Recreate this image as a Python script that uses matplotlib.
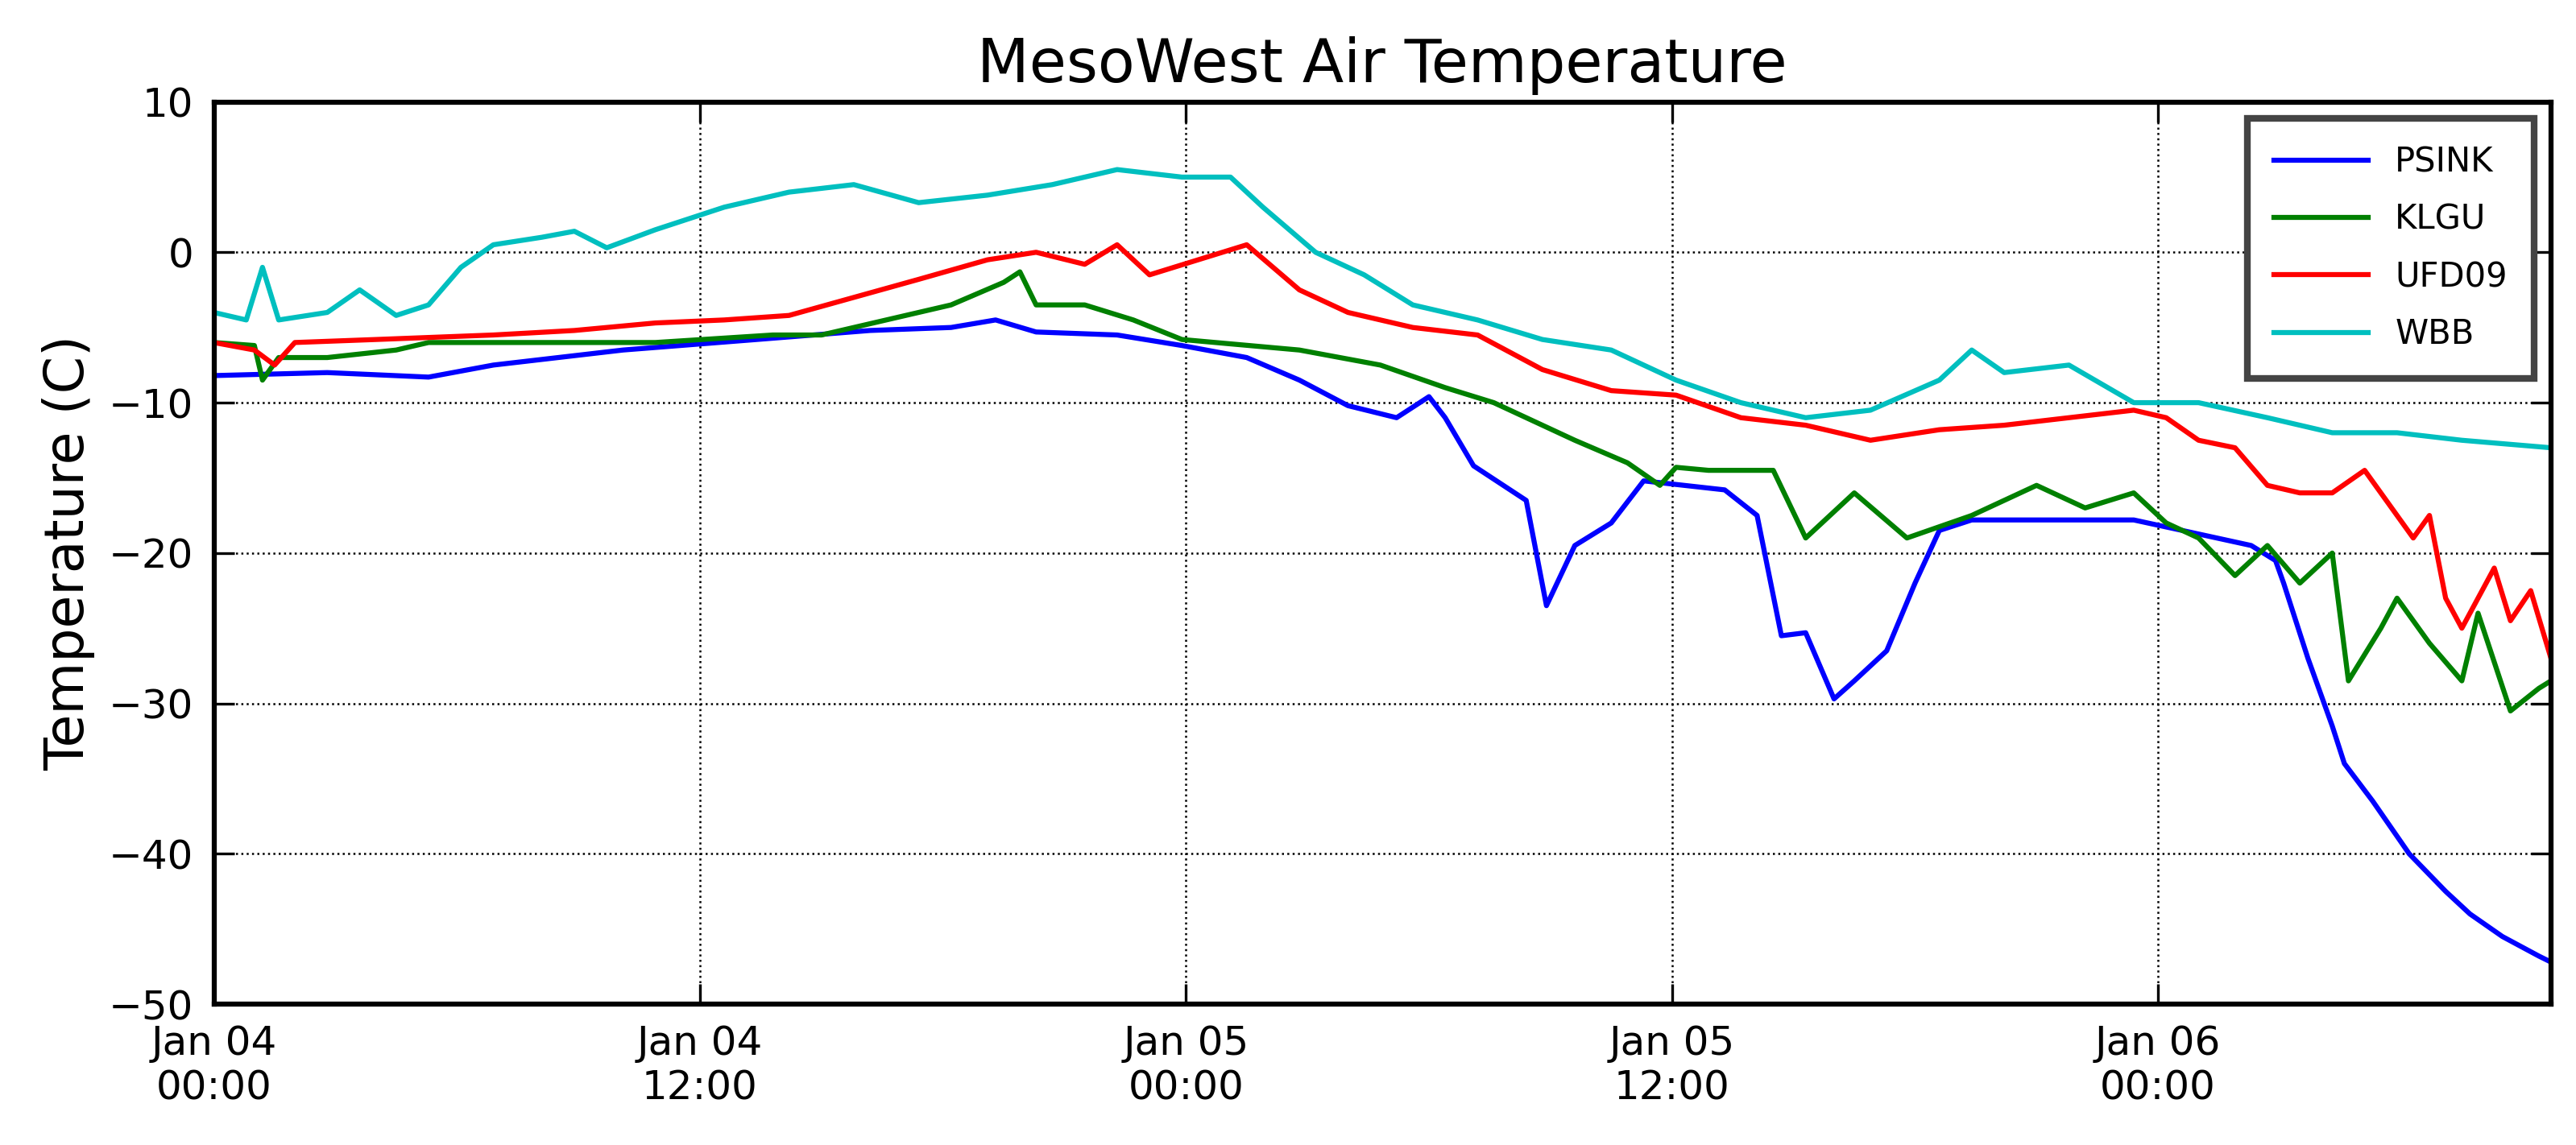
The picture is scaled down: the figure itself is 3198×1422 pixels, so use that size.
import matplotlib.pyplot as plt

# hours since Jan 04 00:00, temperature in C
psink_t = [0, 2.8, 5.3, 6.9, 10.1, 13.4, 16.2, 18.2, 19.3, 20.3, 22.3, 23.9, 25.5, 26.8, 28, 29.2,
           30, 30.4, 31.1, 32.4, 32.9, 33.6, 34.5, 35.3, 37.3, 38.1, 38.7, 39.3, 40, 40.5, 41.3,
           42, 42.6, 43.4, 47.4, 48.6, 50.3, 50.9, 51.1, 51.7, 52.3, 52.6, 53.3, 54.2, 55.1,
           55.7, 56.5, 57.4, 57.7]
psink_v = [-8.2, -8.0, -8.3, -7.5, -6.5, -5.8, -5.2, -5.0, -4.5, -5.3, -5.5, -6.2, -7.0, -8.5, -10.2, -11.0,
           -9.6, -11.0, -14.2, -16.5, -23.5, -19.5, -18.0, -15.2, -15.8, -17.5, -25.5, -25.3, -29.7, -28.5, -26.5,
           -22.0, -18.5, -17.8, -17.8, -18.5, -19.5, -20.5, -22.0, -27.0, -31.5, -34.0, -36.5, -40.0, -42.5,
           -44.0, -45.5, -46.8, -47.2]

klgu_t = [0, 1.0, 1.2, 1.6, 2.8, 4.5, 5.3, 10.9, 13.8, 15, 16.6, 18.2, 19.5, 19.9, 20.3, 21.5, 22.7,
          23.9, 26.8, 28.8, 30.4, 31.6, 33.6, 34.9, 35.7, 36.1, 36.9, 38.5, 39.3, 40.5, 41.8, 43.4,
          45, 46.2, 47.4, 48.2, 49, 49.9, 50.7, 51.5, 52.3, 52.7, 53.5, 53.9, 54.7, 55.5, 55.9,
          56.7, 57.4, 57.7]
klgu_v = [-6.0, -6.2, -8.5, -7.0, -7.0, -6.5, -6.0, -6.0, -5.5, -5.5, -4.5, -3.5, -2.0, -1.3, -3.5, -3.5, -4.5,
          -5.8, -6.5, -7.5, -9.0, -10.0, -12.5, -14.0, -15.5, -14.3, -14.5, -14.5, -19.0, -16.0, -19.0, -17.5,
          -15.5, -17.0, -16.0, -18.0, -19.0, -21.5, -19.5, -22.0, -20.0, -28.5, -25.0, -23.0, -26.0, -28.5, -24.0,
          -30.5, -29.0, -28.5]

ufd09_t = [0, 1.0, 1.5, 2.0, 4.0, 6.9, 8.9, 10.9, 12.6, 14.2, 15.8, 17.4, 19.1, 20.3, 21.5, 22.3, 23.1,
           24.3, 25.5, 26.8, 28, 29.6, 31.2, 32.8, 34.5, 36.1, 37.7, 39.3, 40.9, 42.6, 44.2, 45.8,
           47.4, 48.2, 49, 49.9, 50.7, 51.5, 52.3, 53.1, 53.9, 54.3, 54.7, 55.1, 55.5, 55.9, 56.3,
           56.7, 57.2, 57.7]
ufd09_v = [-6.0, -6.5, -7.5, -6.0, -5.8, -5.5, -5.2, -4.7, -4.5, -4.2, -3.0, -1.8, -0.5, 0.0, -0.8, 0.5, -1.5,
           -0.5, 0.5, -2.5, -4.0, -5.0, -5.5, -7.8, -9.2, -9.5, -11.0, -11.5, -12.5, -11.8, -11.5, -11.0,
           -10.5, -11.0, -12.5, -13.0, -15.5, -16.0, -16.0, -14.5, -17.5, -19.0, -17.5, -23.0, -25.0, -23.0, -21.0,
           -24.5, -22.5, -27.0]

wbb_t = [0, 0.8, 1.2, 1.6, 2.8, 3.6, 4.5, 5.3, 6.1, 6.9, 8.1, 8.9, 9.7, 10.9, 12.6, 14.2, 15.8,
         17.4, 19.1, 20.7, 22.3, 23.9, 25.1, 25.9, 27.2, 28.4, 29.6, 31.2, 32.8, 34.5, 36.1, 37.7,
         39.3, 40.9, 42.6, 43.4, 44.2, 45.8, 47.4, 49, 50.7, 52.3, 53.9, 55.5, 57.7]
wbb_v = [-4.0, -4.5, -1.0, -4.5, -4.0, -2.5, -4.2, -3.5, -1.0, 0.5, 1.0, 1.4, 0.3, 1.5, 3.0, 4.0, 4.5,
         3.3, 3.8, 4.5, 5.5, 5.0, 5.0, 3.0, 0.0, -1.5, -3.5, -4.5, -5.8, -6.5, -8.5, -10.0,
         -11.0, -10.5, -8.5, -6.5, -8.0, -7.5, -10.0, -10.0, -11.0, -12.0, -12.0, -12.5, -13.0]

tick_hours = [0, 12, 24, 36, 48]
tick_labels = ['Jan 04\n00:00', 'Jan 04\n12:00', 'Jan 05\n00:00', 'Jan 05\n12:00', 'Jan 06\n00:00']

fig = plt.figure(figsize=(10.663, 4.74), dpi=300)
ax = fig.add_axes([0.083, 0.123, 0.907, 0.788])

ax.plot(psink_t, psink_v, color='b', lw=1.5, label='PSINK')
ax.plot(klgu_t, klgu_v, color='g', lw=1.5, label='KLGU')
ax.plot(ufd09_t, ufd09_v, color='r', lw=1.5, label='UFD09')
ax.plot(wbb_t, wbb_v, color='c', lw=1.5, label='WBB')

ax.set_xlim(0, 57.7)
ax.set_ylim(-50, 10)
ax.set_xticks(tick_hours)
ax.set_xticklabels(tick_labels)
ax.set_yticks(range(-50, 11, 10))
ax.tick_params(direction='in', length=6, labelsize=12, top=True, right=True, pad=6)
ax.grid(True, color='k', linestyle=':', linewidth=0.6)
for s in ax.spines.values():
    s.set_linewidth(1.5)

ax.set_ylabel('Temperature (C)', fontsize=16)
ax.set_title('MesoWest Air Temperature', fontsize=18)

leg = ax.legend(loc='upper right', fontsize=10, fancybox=False, handlelength=2.8, borderpad=0.8,
                labelspacing=0.7)
leg.get_frame().set_edgecolor('#444444')
leg.get_frame().set_linewidth(2)
leg.get_frame().set_alpha(1)

fig.savefig('out.png', dpi=300)
